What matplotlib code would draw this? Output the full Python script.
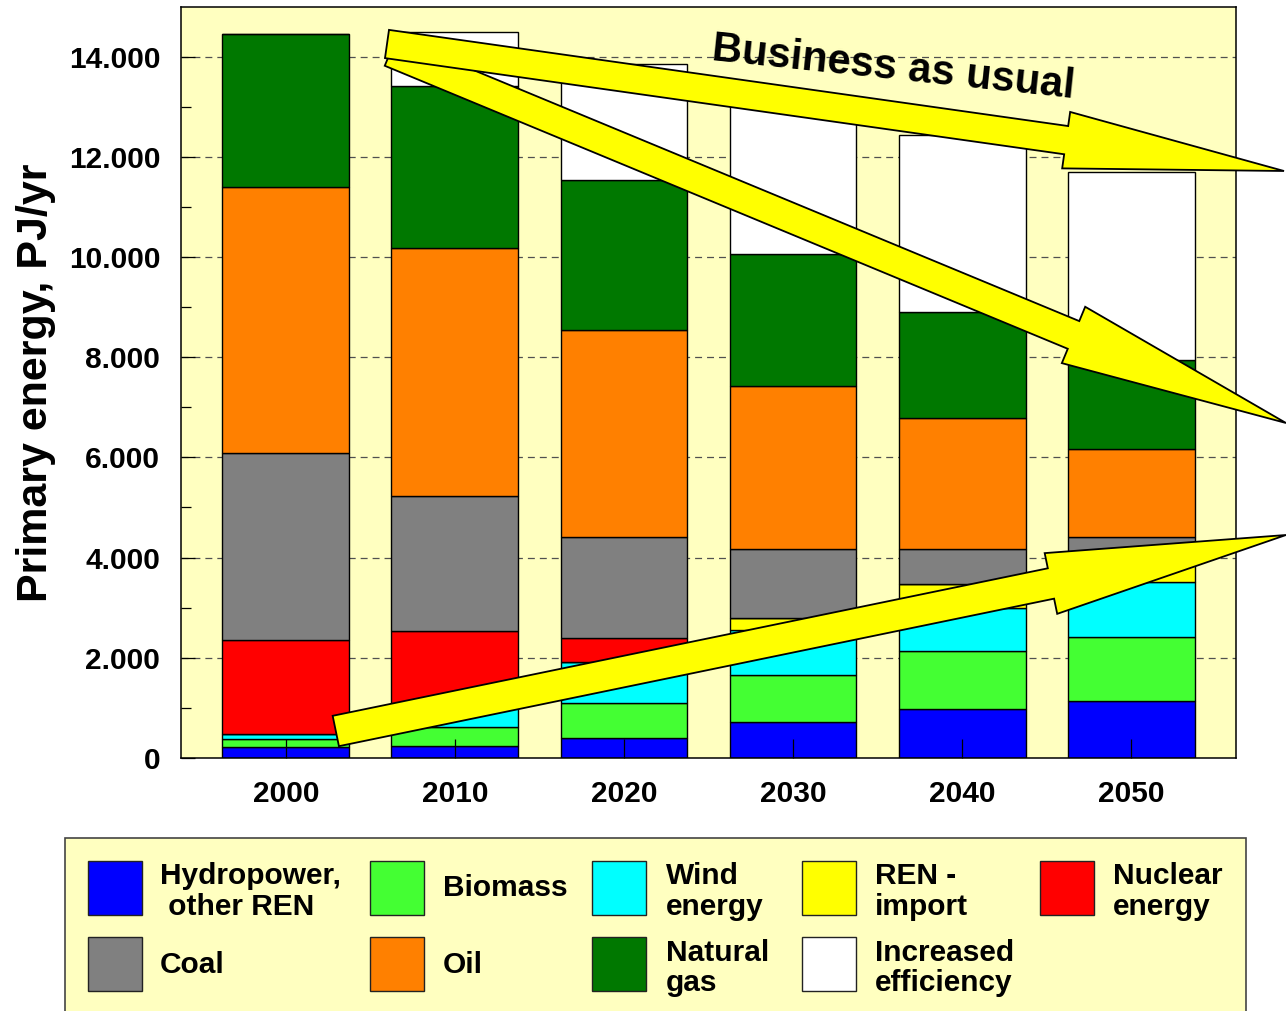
import matplotlib
matplotlib.use("Agg")
import matplotlib.pyplot as plt
from matplotlib.patches import FancyArrow, Rectangle
import numpy as np

plt.rcParams["font.family"] = ["Liberation Sans", "DejaVu Sans"]
plt.rcParams["font.weight"] = "bold"
plt.rcParams["lines.scale_dashes"] = False

# ---- data: primary energy by source, PJ/yr ----
years = ["2000", "2010", "2020", "2030", "2040", "2050"]
hydro = [210, 240, 390, 710, 970, 1130]
biomass = [160, 370, 710, 940, 1160, 1280]
wind = [110, 390, 820, 910, 870, 1110]
ren_import = [0, 0, 0, 230, 470, 580]
nuclear = [1870, 1540, 470, 0, 0, 0]
coal = [3730, 2680, 2020, 1390, 710, 310]
oil = [5330, 4960, 4130, 3240, 2610, 1760]
natural_gas = [3060, 3240, 3010, 2650, 2110, 1780]
efficiency = [0, 1090, 2310, 3080, 3550, 3750]

series = [hydro, biomass, wind, ren_import, nuclear, coal, oil, natural_gas, efficiency]
series_labels = ["Hydropower,\n other REN", "Biomass", "Wind\nenergy", "REN -\nimport",
                 "Nuclear\nenergy", "Coal", "Oil", "Natural\ngas", "Increased\nefficiency"]
series_colors = ["#0000FF", "#44FF33", "#00FFFF", "#FFFF00", "#FF0000",
                 "#808080", "#FF8000", "#007800", "#FFFFFF"]

y_ticks = [0, 2000, 4000, 6000, 8000, 10000, 12000, 14000]
y_tick_labels = ["0", "2.000", "4.000", "6.000", "8.000", "10.000", "12.000", "14.000"]

W, H = 1286, 1011
BG = "#FFFFC0"

fig = plt.figure(figsize=(W / 100, H / 100), dpi=100)
fig.patch.set_facecolor("white")


def fx(px):
    return px / W


def fy(py):
    return 1 - py / H


ax = fig.add_axes([fx(181), fy(757.7), fx(1236) - fx(181), fy(7) - fy(757.7)])
ax.set_facecolor(BG)

x = np.arange(len(years))
bottom = np.zeros(len(years))
for vals, color in zip(series, series_colors):
    vals = np.asarray(vals, dtype=float)
    ax.bar(x, vals, width=0.75, bottom=bottom, color=color,
           edgecolor="black", linewidth=1.0, zorder=2)
    bottom += vals

ax.set_xlim(-0.62, 5.62)
ax.set_ylim(0, 15000)

for yv in y_ticks[1:]:
    ax.axhline(yv, color="#505050", lw=0.9, dashes=(5, 3.6), zorder=1)

ax.set_axisbelow(False)
ax.set_yticks(y_ticks)
ax.set_yticklabels(y_tick_labels)
ax.set_yticks(np.arange(1000, 15000, 2000), minor=True)
ax.set_xticks(x)
ax.set_xticklabels(years)
ax.tick_params(axis="y", which="major", direction="in", length=10, width=0.9,
               pad=15, labelsize=21.5)
ax.tick_params(axis="y", which="minor", direction="in", length=7, width=0.9)
ax.tick_params(axis="x", direction="in", length=13.5, width=0.9, pad=16, labelsize=21.5)
for lab in ax.get_xticklabels() + ax.get_yticklabels():
    lab.set_fontweight("bold")
for sp in ax.spines.values():
    sp.set_linewidth(1.1)
    sp.set_color("black")

fig.text(fx(36), fy(383), "Primary energy, PJ/yr", rotation=90, ha="center",
         va="center", fontsize=31, fontweight="bold")

# ---- overlay in pixel units for arrows and the legend panel ----
ov = fig.add_axes([0, 0, 1, 1], zorder=5)
ov.set_xlim(0, W)
ov.set_ylim(H, 0)
ov.axis("off")
ov.patch.set_alpha(0)

arrows = [
    # (tail, tip, shaft width, head width, head length)
    ((390.5, 51.9), (1286, 423), 30, 61, 230),
    ((387, 44), (1284, 171), 28.5, 57, 220),
    ((335.8, 731), (1286, 535), 31, 62, 240),
]
for (x0, y0), (x1, y1), w, hw, hl in arrows:
    ov.add_patch(FancyArrow(x0, y0, x1 - x0, y1 - y0, width=w, head_width=hw,
                            head_length=hl, length_includes_head=True,
                            fc="#FFFF00", ec="black", lw=1.3))

ov.text(893, 68, "Business as usual", rotation=-6, rotation_mode="anchor",
        ha="center", va="center", fontsize=30, fontweight="bold")

# legend panel
ov.add_patch(Rectangle((65, 838), 1181, 190, fc=BG, ec="#444444", lw=1.2))
swatch_x = [88, 370, 592, 802, 1040]
text_x = [160, 443, 666, 875, 1113]
row_y = [887.5, 964]
sw = 54
for i, (lab, col) in enumerate(zip(series_labels, series_colors)):
    r, c = divmod(i, 5)
    ov.add_patch(Rectangle((swatch_x[c], row_y[r] - sw / 2), sw, sw, fc=col,
                           ec="#222222", lw=1.0))
    multi = "\n" in lab
    ov.text(text_x[c], row_y[r] + (4 if multi else 1), lab, ha="left", va="center",
            fontsize=21.5, fontweight="bold", linespacing=1.1)

fig.savefig("out.png", dpi=100, facecolor="white")
